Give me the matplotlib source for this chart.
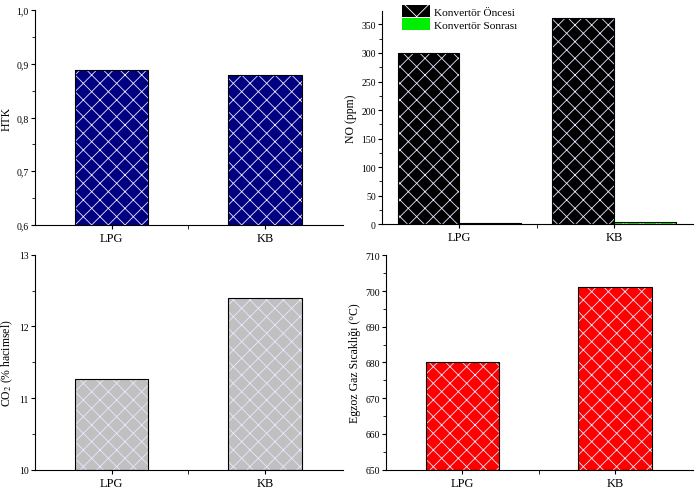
import numpy as np
import matplotlib
matplotlib.use("Agg")
import matplotlib.pyplot as plt
from matplotlib.ticker import MultipleLocator, FuncFormatter, FixedLocator
from matplotlib.patches import Patch

plt.rcParams["font.family"] = ["Liberation Serif", "DejaVu Serif"]
plt.rcParams["hatch.linewidth"] = 0.6
plt.rcParams["mathtext.fontset"] = "stix"

fuels = ["LPG", "KB"]
htk = [0.889, 0.879]
no_before = [300, 362]
no_after = [1.5, 4]
co2 = [11.26, 12.40]
exhaust_temp = [680, 701]

navy = "#000080"
gray = "#c0c0c0"
red = "#ff0000"
green = "#00ee00"

comma = FuncFormatter(lambda v, p: ("%.1f" % v).replace(".", ","))


def hatched_bar(ax, x, h, w, color, bottom=0):
    ax.bar(x, h, w, bottom=bottom, color=color, edgecolor="#e8e8ff", linewidth=0,
           hatch="xx", zorder=2)
    ax.bar(x, h, w, bottom=bottom, fill=False, edgecolor="black", linewidth=0.8, zorder=3)


def style(ax, ylim, major, minor, ylabel):
    ax.set_xlim(0.5, 2.51)
    ax.set_ylim(*ylim)
    ax.spines["top"].set_visible(False)
    ax.spines["right"].set_visible(False)
    ax.xaxis.set_major_locator(FixedLocator([1, 2]))
    ax.xaxis.set_minor_locator(FixedLocator([1.5]))
    ax.set_xticklabels(fuels, fontsize=9)
    ax.yaxis.set_major_locator(MultipleLocator(major))
    ax.yaxis.set_minor_locator(MultipleLocator(minor))
    ax.tick_params(axis="y", which="major", direction="out", length=3, labelsize=7, pad=1.5)
    ax.tick_params(axis="y", which="minor", direction="out", length=2)
    ax.tick_params(axis="x", which="both", direction="out", length=3, labelsize=9, pad=2)
    ax.set_ylabel(ylabel, fontsize=8.5, labelpad=3)


fig = plt.figure(figsize=(6.96, 4.89), dpi=100)
x = np.arange(1, 3)

ax1 = fig.add_axes([0.0503, 0.5378, 0.4427, 0.4397])
for xi, v in zip(x, htk):
    hatched_bar(ax1, xi, v - 0.6, 0.48, navy, bottom=0.6)
style(ax1, (0.6, 1.0), 0.1, 0.05, "HTK")
ax1.yaxis.set_major_formatter(comma)

ax2 = fig.add_axes([0.549, 0.5393, 0.4467, 0.4367])
w = 0.4
for xi, a, b in zip(x, no_before, no_after):
    hatched_bar(ax2, xi - w / 2, a, w, "black")
    hatched_bar(ax2, xi + w / 2, b, w, green)
style(ax2, (0, 374), 50, 25, "NO (ppm)")
handles = [Patch(facecolor="black", edgecolor="white", hatch="x", linewidth=0),
           Patch(facecolor=green, edgecolor=green, linewidth=0)]
leg = ax2.legend(handles, ["Konvertör Öncesi", "Konvertör Sonrası"], loc="upper left",
                 bbox_to_anchor=(0.03, 1.075), frameon=False, fontsize=8.2,
                 handlelength=2.5, handleheight=1.2, handletextpad=0.3, labelspacing=0.15)

ax3 = fig.add_axes([0.0503, 0.0374, 0.4427, 0.4396])
for xi, v in zip(x, co2):
    hatched_bar(ax3, xi, v - 10, 0.48, gray, bottom=10)
style(ax3, (10, 13), 1, 0.5, "CO$_2$ (% hacimsel)")

ax4 = fig.add_axes([0.5546, 0.0374, 0.4411, 0.4385])
for xi, v in zip(x, exhaust_temp):
    hatched_bar(ax4, xi, v - 650, 0.48, red, bottom=650)
style(ax4, (650, 710), 10, 5, "Egzoz Gaz Sıcaklığı (°C)")

fig.savefig("out.png", dpi=100)
